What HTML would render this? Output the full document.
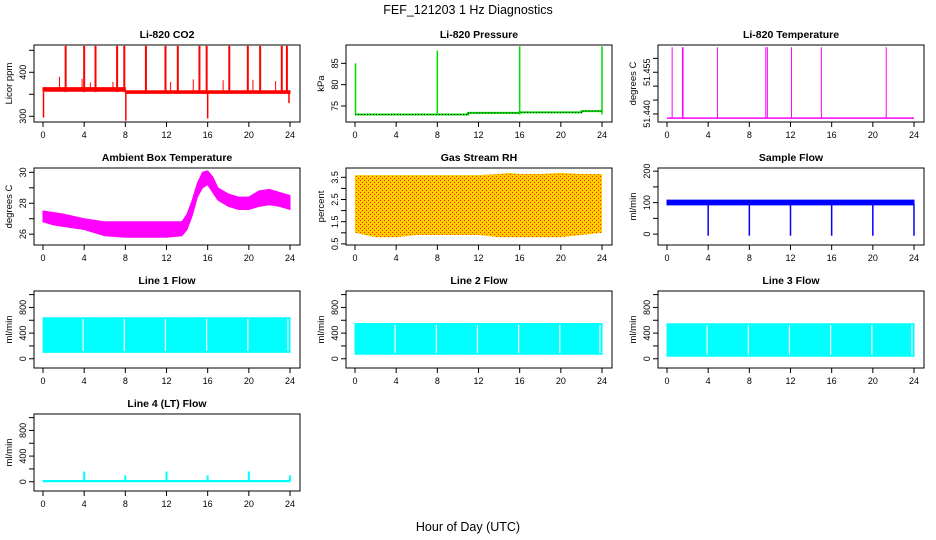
<!DOCTYPE html>
<html><head><meta charset="utf-8"><style>
html,body{margin:0;padding:0;background:#fff;}
svg{display:block;font-family:"Liberation Sans",sans-serif;}
</style></head><body>
<svg id="chart" width="936" height="540" viewBox="0 0 936 540" xmlns="http://www.w3.org/2000/svg">
<defs>
<pattern id="rhpat" width="4" height="4" patternUnits="userSpaceOnUse">
<rect width="4" height="4" fill="#ffcc00"/><rect x="0" y="0" width="1" height="1" fill="#ff2000"/><rect x="2" y="2" width="1" height="1" fill="#ff2000"/>
</pattern>
</defs>
<text x="468" y="14" text-anchor="middle" font-size="12.5">FEF_121203  1 Hz Diagnostics</text>
<text x="468" y="531" text-anchor="middle" font-size="12.5">Hour of Day (UTC)</text>
</svg>
<script>
// ---- data ----
const xTicks = [0,4,8,12,16,20,24];
// CO2
const co2BaseHours = [0,8,8.01,24];
const co2BaseLo = [357,357,352,352];
const co2BaseHi = [365,365,358,358];
const co2SpikeHours = [2.2,4.0,5.1,7.2,7.9,10.0,11.9,13.1,15.2,15.9,18.1,19.9,21.1,23.2,23.7];
const co2SpikeTop = [460,460,460,460,460,460,460,460,460,460,460,460,460,460,460];
const co2MiniHours = [1.6,3.8,4.6,6.8,12.4,14.6,17.5,20.4,22.6];
const co2MiniTop = [390,385,377,378,378,384,382,383,380];
const co2DipHours = [0.05,8.05,16.0,23.9];
const co2DipBottom = [297,290,295,330];
// Pressure
const presHours = [0,8,11,16,22,24];
const presVals = [73.0,73.0,73.4,73.5,73.8,73.8];
const presSpikeHours = [0.05,8.0,16.0,24.0];
const presSpikeTop = [85,88,89,89];
// Li-820 temperature
const tempBase = 51.4385;
const tempSpikeHours = [0.5,1.5,1.56,4.9,9.6,9.75,12.1,15.0,21.3];
const tempSpikeTop = [51.464,51.464,51.464,51.464,51.464,51.464,51.464,51.464,51.464];
// Ambient box temperature
const ambHours = [0,1,2,4,6,8,10,12,13.5,14,14.5,15,15.5,16,16.5,17,18,19,20,21,22,23,24];
const ambLo = [26.8,26.6,26.5,26.3,25.9,25.8,25.8,25.8,25.9,26.3,27.2,28.4,29.0,29.2,28.7,28.2,27.8,27.6,27.6,27.8,27.9,27.8,27.6];
const ambHi = [27.5,27.4,27.3,27.0,26.8,26.8,26.8,26.8,26.8,27.3,28.2,29.3,30.0,30.1,29.7,29.0,28.6,28.4,28.4,28.8,28.9,28.7,28.5];
// Gas stream RH
const rhHours = [0,2,4,6,8,10,12,14,15,16,18,20,22,24];
const rhHi = [3.6,3.6,3.6,3.6,3.6,3.6,3.6,3.65,3.7,3.65,3.65,3.7,3.65,3.65];
const rhLo = [1.0,0.8,0.8,0.9,0.9,0.9,0.9,0.8,0.8,0.8,0.8,0.8,0.9,1.0];
// Sample flow
const sfHours = [0,24];
const sfLo = [93,93];
const sfHi = [108,108];
const sfDipHours = [4,8,12,16,20,24];
const sfDipBottom = [-5,-5,-5,-5,-5,-5];
// Line flows
const l1Lo = [100,100]; const l1Hi = [640,640];
const l2Lo = [70,70]; const l2Hi = [550,550];
const l3Lo = [40,40]; const l3Hi = [545,545];
const lineGapHours = [3.9,7.9,11.9,15.9,19.9,23.8];
const l4Lo = [0,0]; const l4Hi = [20,20];
const l4SpikeHours = [4,8,12,16,20,24];
const l4SpikeTop = [160,100,160,100,160,100];

// ---- layout ----
const NS='http://www.w3.org/2000/svg';
const svg=document.getElementById('chart');
function mk(tag,attrs,parent){const e=document.createElementNS(NS,tag);for(const k in attrs)e.setAttribute(k,attrs[k]);(parent||svg).appendChild(e);return e;}
const colX=[34,346,658], rowY=[45,168,291,414], BW=266, BH=77;
function panel(col,row,title,ylab,ymin,ymax,ticks,labels,name,lx){
  const bx=colX[col], by=rowY[row];
  const g=mk('g',{});
  
  
  const sx=h=>bx+9+h/24*247;
  const sy=v=>by+BH-(v-ymin)/(ymax-ymin)*BH;
  const t=mk('text',{x:bx+BW/2,y:by-7,'text-anchor':'middle','font-size':10.5,'font-weight':'bold'},g);
  t.textContent=title;
  
  
  const box=mk('rect',{x:bx,y:by,width:BW,height:BH,fill:'none',stroke:'#000','stroke-width':1},g);
  
  
  const xa=mk('g',{},g);
  
  
  mk('line',{x1:sx(0),x2:sx(24),y1:by+BH,y2:by+BH,stroke:'#000'},xa);
  xTicks.forEach(h=>{mk('line',{x1:sx(h),x2:sx(h),y1:by+BH,y2:by+BH+5,stroke:'#000'},xa);
    const tl=mk('text',{x:sx(h),y:by+BH+16,'text-anchor':'middle','font-size':9},xa);tl.textContent=h;
    
    });
  const ya=mk('g',{},g);
  
  
  mk('line',{x1:bx,x2:bx,y1:sy(ticks[0]),y2:sy(ticks[ticks.length-1]),stroke:'#000'},ya);
  const tx=lx||8;
  ticks.forEach((v,i)=>{mk('line',{x1:bx-5,x2:bx,y1:sy(v),y2:sy(v),stroke:'#000'},ya);
    if(labels[i]){const tl=mk('text',{x:0,y:0,'text-anchor':'middle','font-size':9,transform:`translate(${bx-tx},${sy(v)}) rotate(-90)`},ya);tl.textContent=labels[i];
    
    }});
  const yl=mk('text',{x:0,y:0,'text-anchor':'middle','font-size':9.5,transform:`translate(${bx-22},${by+BH/2}) rotate(-90)`},ya);
  yl.textContent=ylab;
  
  
  return {g,sx,sy,by,bx};
}
function band(p,hours,lo,hi,fill,name){
  let pts=hours.map((h,i)=>p.sx(h)+','+p.sy(hi[i]));
  pts=pts.concat(hours.map((h,i)=>[h,i]).reverse().map(([h,i])=>p.sx(h)+','+p.sy(lo[i])));
  const e=mk('polygon',{points:pts.join(' '),fill:fill,stroke:fill==='url(#rhpat)'?'none':fill,'stroke-width':1},p.g);
  
  
}
function vlines(p,hours,from,to,color,name,w){
  hours.forEach((h,i)=>{const e=mk('line',{x1:p.sx(h),x2:p.sx(h),y1:p.sy(Array.isArray(from)?from[i]:from),y2:p.sy(Array.isArray(to)?to[i]:to),stroke:color,'stroke-width':w||1.5},p.g);
    
    });
}
const range=(a,b,s)=>{const r=[];for(let v=a;v<=b+1e-9;v+=s)r.push(+v.toFixed(4));return r;};

let p=panel(0,0,'Li-820 CO2','Licor ppm',287,462,[300,350,400,450],['300','','400',''],'co2');
band(p,co2BaseHours,co2BaseLo,co2BaseHi,'#ff0000','co2-series');
vlines(p,co2SpikeHours,355,co2SpikeTop,'#ff0000','co2-spike',2);
vlines(p,co2MiniHours,358,co2MiniTop,'#ff0000','co2-mini-spike',1);
vlines(p,co2DipHours,355,co2DipBottom,'#ff0000','co2-dip',1.5);

p=panel(1,0,'Li-820 Pressure','kPa',71.25,89.3,[75,80,85],['75','80','85'],'pressure');
{const pts=[];presHours.forEach((h,i)=>{if(i>0)pts.push(p.sx(h)+','+p.sy(presVals[i-1]));pts.push(p.sx(h)+','+p.sy(presVals[i]));});
 const e=mk('polyline',{points:pts.join(' '),fill:'none',stroke:'#00dd00','stroke-width':2},p.g);
 
 
 const e2=mk('polyline',{points:pts.join(' '),fill:'none',stroke:'#000','stroke-width':1,'stroke-dasharray':'1 2'},p.g);
 
 }
vlines(p,presSpikeHours,73,presSpikeTop,'#00dd00','pressure-spike',1.5);

p=panel(2,0,'Li-820 Temperature','degrees C',51.4371,51.4648,[51.440,51.445,51.450,51.455,51.460],['51.440','','','51.455',''],'li820-temp');
{const e=mk('line',{x1:p.sx(0),x2:p.sx(24),y1:p.sy(tempBase),y2:p.sy(tempBase),stroke:'#ff00ff','stroke-width':1.5},p.g);
 
 }
vlines(p,tempSpikeHours,tempBase,tempSpikeTop,'#ff00ff','li820-temp-spike',1);

p=panel(0,1,'Ambient Box Temperature','degrees C',25.3,30.28,[26,27,28,29,30],['26','','28','','30'],'ambient-temp');
band(p,ambHours,ambLo,ambHi,'#ff00ff','ambient-temp-series');

p=panel(1,1,'Gas Stream RH','percent',0.45,3.92,range(0.5,3.5,0.5),['0.5','','1.5','','2.5','','3.5'],'gas-rh');
band(p,rhHours,rhLo,rhHi,'url(#rhpat)','gas-rh-series');

p=panel(2,1,'Sample Flow','ml/min',-34.5,210,[0,50,100,150,200],['0','','100','','200'],'sample-flow');
band(p,sfHours,sfLo,sfHi,'#0000ff','sample-flow-series');
vlines(p,sfDipHours,95,sfDipBottom,'#0000ff','sample-flow-dip',1.5);

const fTicks=[0,200,400,600,800,1000], fLab=['0','','400','','800',''];
[[0,2,'Line 1 Flow',l1Lo,l1Hi,'line1-flow'],[1,2,'Line 2 Flow',l2Lo,l2Hi,'line2-flow'],[2,2,'Line 3 Flow',l3Lo,l3Hi,'line3-flow']].forEach(([c,r,t,lo,hi,n])=>{
  const q=panel(c,r,t,'ml/min',-144,1056,fTicks,fLab,n);
  band(q,[0,24],lo,hi,'#00ffff',n+'-series');
  vlines(q,lineGapHours,lo[0]+20,hi[0]-20,'#ffffff',n+'-gap',1.2);
});
p=panel(0,3,'Line 4 (LT) Flow','ml/min',-144,1056,fTicks,fLab,'line4-flow');
band(p,[0,24],l4Lo,l4Hi,'#00ffff','line4-flow-series');
vlines(p,l4SpikeHours,10,l4SpikeTop,'#00ffff','line4-flow-spike',2);
</script>
</body></html>
